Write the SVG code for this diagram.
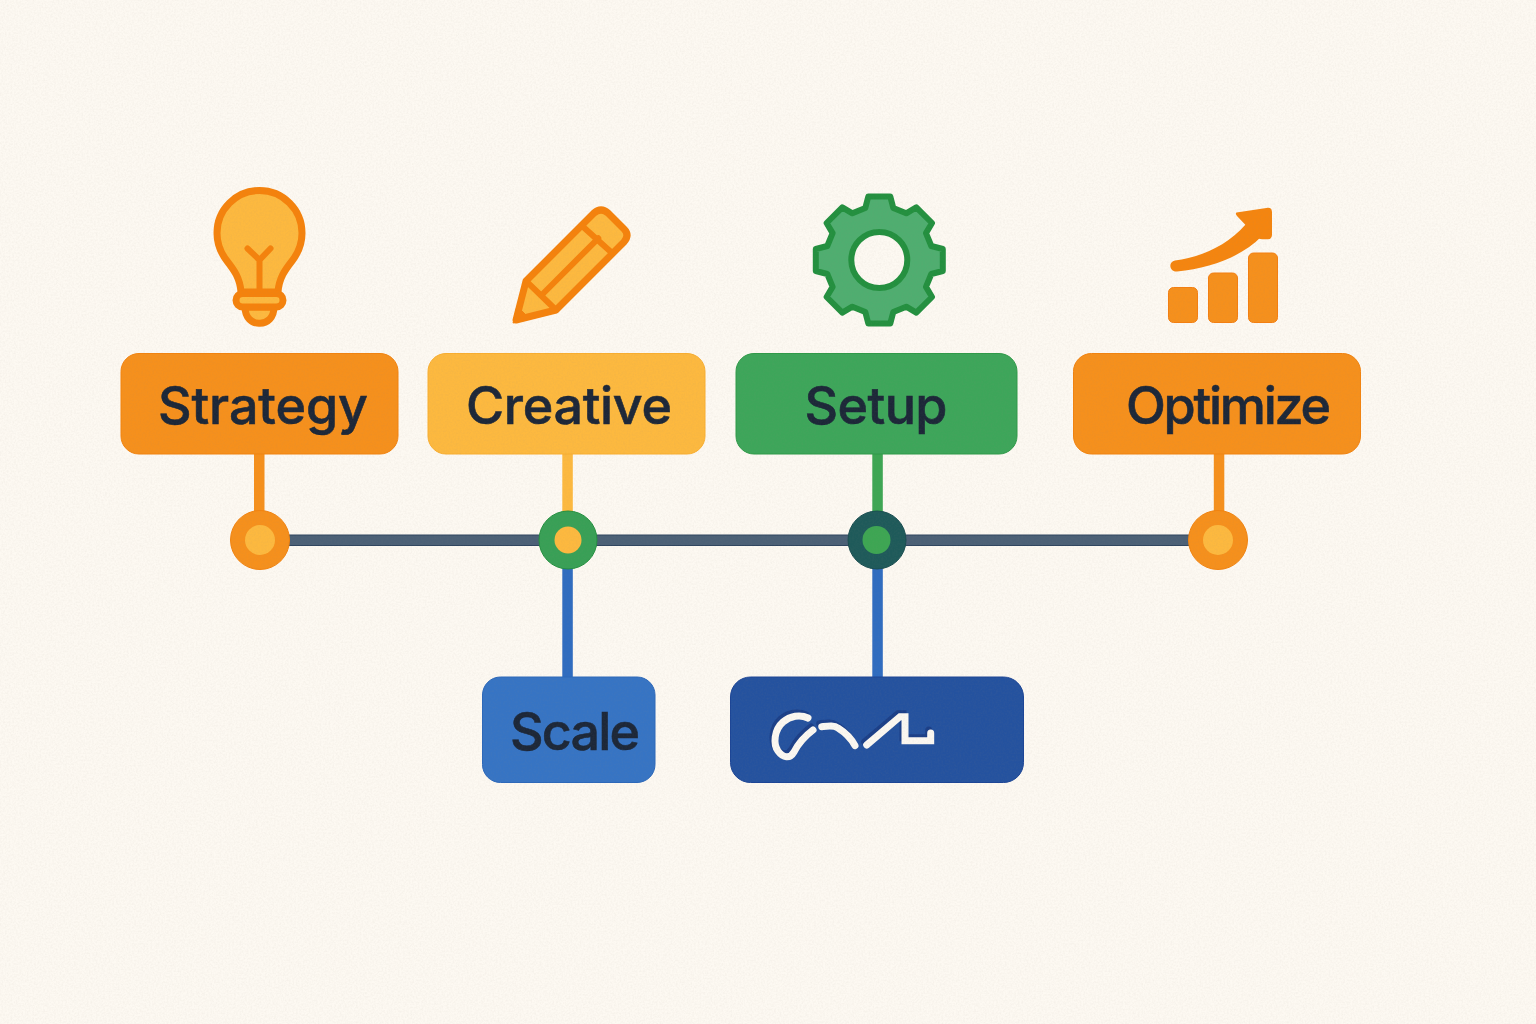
<svg xmlns="http://www.w3.org/2000/svg" width="1536" height="1024" viewBox="0 0 1536 1024">
<style>
.lbl{font-family:"Inter","Liberation Sans",sans-serif;font-size:52px;font-weight:500;fill:#1c2738;stroke:#1c2738;stroke-width:0.6;text-anchor:middle}
.or{fill:#f6901c;stroke:#f2830f;stroke-width:1}
.ye{fill:#fdb93f;stroke:#f9ae30;stroke-width:1}
.ic{fill:#fdb93f;stroke:#f5820c;stroke-width:7;stroke-linejoin:round;stroke-linecap:round}
.il{fill:none;stroke:#f5820c;stroke-width:6;stroke-linecap:round}
.sc{fill:none;stroke-width:7;stroke-linecap:round;stroke-linejoin:miter}
.bar{fill:#f6901c;stroke:#f57f10;stroke-width:1}
</style>
<defs>
<filter id="paper" x="0" y="0" width="100%" height="100%">
<feTurbulence type="fractalNoise" baseFrequency="0.55" numOctaves="3" seed="4"/>
<feColorMatrix values="0 0 0 0 0.3  0 0 0 0 0.25  0 0 0 0 0.2  0.9 0 0 0 -0.3"/>
</filter>
</defs>
<rect width="1536" height="1024" fill="#fdf9f2"/>
<g id="connectors">
<rect x="260" y="535" width="958" height="10.500" fill="#4b6076" stroke="#2f455f" stroke-width="1"/>
<rect x="254" y="450" width="10.500" height="70" fill="#f6901c"/>
<rect x="562.300" y="450" width="10.500" height="70" fill="#fdb93f"/>
<rect x="872.300" y="450" width="10.500" height="70" fill="#3da653"/>
<rect x="1213.800" y="450" width="10.500" height="70" fill="#f6901c"/>
<rect x="562.300" y="560" width="10.500" height="120" fill="#2f6cc0"/>
<rect x="872.300" y="560" width="10.500" height="120" fill="#2f6cc0"/>
</g>
<g id="icon-bulb">
<path class="ic" d="M241,292C240,278 234,270 227,261C220,252 217,243 217,233A42.500,42.500 0 0 1 302,233C302,243 299,252 292,261C285,270 279,278 278,292Z"/>
<path class="il" d="M247.500,248.500L259.500,260L270.500,248.500M259.500,260V291"/>
<path class="ic" d="M245,307C245,318 252,323.200 259,323.200H260C267,323.200 274,318 274,307Z"/>
<rect class="ic" x="236" y="293.500" width="47" height="13.500" rx="6.700"/>
</g>
<g id="icon-pencil">
<path class="ic" d="M516,320L526,281L594,213Q601,207 608,213L624,229Q630,235 624,242L556,310Z"/>
<path class="il" d="M583,226.700L610.700,251.700M526.700,281.700L556,310M598.300,238.300L541.700,295"/>
<path d="M513,323L517,306L530,319Z" fill="#f5820c" stroke="#f5820c" stroke-width="1" stroke-linejoin="round"/>
</g>
<g id="icon-gear">
<path fill="#4fae70" stroke="#23903f" stroke-width="6" stroke-linejoin="round" fill-rule="evenodd" transform="translate(879.300,260)" d="M-11,-63.500L11,-63.500L14,-52L26.900,-46.700L37,-52.700L52.700,-37L46.700,-26.900L52,-14L63.500,-11L63.500,11L52,14L46.700,26.900L52.700,37L37,52.700L26.900,46.700L14,52L11,63.500L-11,63.500L-14,52L-26.900,46.700L-37,52.700L-52.700,37L-46.700,26.900L-52,14L-63.500,11L-63.500,-11L-52,-14L-46.700,-26.900L-52.700,-37L-37,-52.700L-26.900,-46.700L-14,-52ZM28,0A28,28 0 1 0 -28,0A28,28 0 1 0 28,0Z"/>
</g>
<g id="icon-chart">
<rect class="bar" x="1168.500" y="287.500" width="29" height="35" rx="5"/>
<rect class="bar" x="1208.500" y="273" width="29" height="49.500" rx="5"/>
<rect class="bar" x="1248.500" y="253" width="29" height="69.500" rx="5"/>
<path d="M1175,260.500C1200,257 1226,247 1246,224L1262,236C1240,258 1210,268 1177,271.500C1169,272 1168,261.500 1175,260.500Z" fill="#f5850f"/>
<path d="M1236.500,212.500L1268,207.700Q1272,207.700 1272,212V235Q1272,239 1268,239.300H1262Q1259,239.300 1257,237L1237,216Q1235,213.500 1236.500,212.500Z" fill="#f5850f"/>
</g>
<g id="node-strategy">
<rect class="or" x="121" y="353.500" width="277" height="100.500" rx="18"/>
<text class="lbl" x="263" y="424" textLength="210">Strategy</text>
</g>
<g id="node-creative">
<rect class="ye" x="428" y="353.500" width="277" height="100.500" rx="18"/>
<text class="lbl" x="569" y="424" textLength="206">Creative</text>
</g>
<g id="node-setup">
<rect x="736" y="353.500" width="281" height="100.500" rx="18" fill="#3da65a" stroke="#2f9a48" stroke-width="1"/>
<text class="lbl" x="876" y="424" textLength="143">Setup</text>
</g>
<g id="node-optimize">
<rect class="or" x="1073.500" y="353.500" width="287" height="100.500" rx="18"/>
<text class="lbl" x="1228.500" y="424" textLength="205">Optimize</text>
</g>
<g id="point-1">
<circle class="or" cx="260" cy="540" r="29.500"/>
<circle cx="260" cy="540" r="15" fill="#fdb93f"/>
</g>
<g id="point-2">
<circle cx="568" cy="540" r="29" fill="#38a056" stroke="#23903f" stroke-width="1"/>
<circle cx="568" cy="540" r="13.500" fill="#fdb93f"/>
</g>
<g id="point-3">
<circle cx="877" cy="540" r="29" fill="#1e5a5a" stroke="#194d50" stroke-width="1"/>
<circle cx="876.500" cy="540" r="14" fill="#3da653"/>
</g>
<g id="point-4">
<circle class="or" cx="1218" cy="540" r="29.500"/>
<circle cx="1218" cy="540" r="15" fill="#fdb93f"/>
</g>
<g id="node-scale">
<rect x="482.500" y="677" width="172.500" height="105.500" rx="18" fill="#3674c4" stroke="#2c68ba" stroke-width="1"/>
<text class="lbl" x="575" y="750" textLength="130">Scale</text>
</g>
<g id="node-scribble">
<rect x="730.500" y="677" width="293" height="105.500" rx="20" fill="#24529f" stroke="#1c4596" stroke-width="1"/>
<g transform="translate(-2,-3)" stroke="#1b3f88">
<path class="sc" d="M808,718C800,714 790,716 783,722C774,730 773,744 778,751C783,758 790,759 794,752C798,744 805,736 813,730"/>
<path class="sc" d="M821.700,726.700C828,726 834,725 838,728C846,733 851,738 855,745.700"/>
<path class="sc" d="M866.700,745L900,716.700H905V740.700H930.700V733"/>
</g>
<g stroke="#fbf8f2">
<path class="sc" d="M808,718C800,714 790,716 783,722C774,730 773,744 778,751C783,758 790,759 794,752C798,744 805,736 813,730"/>
<path class="sc" d="M821.700,726.700C828,726 834,725 838,728C846,733 851,738 855,745.700"/>
<path class="sc" d="M866.700,745L900,716.700H905V740.700H930.700V733"/>
</g>
</g>
<rect id="paper-grain" width="1536" height="1024" filter="url(#paper)" opacity="0.14"/>
</svg>
